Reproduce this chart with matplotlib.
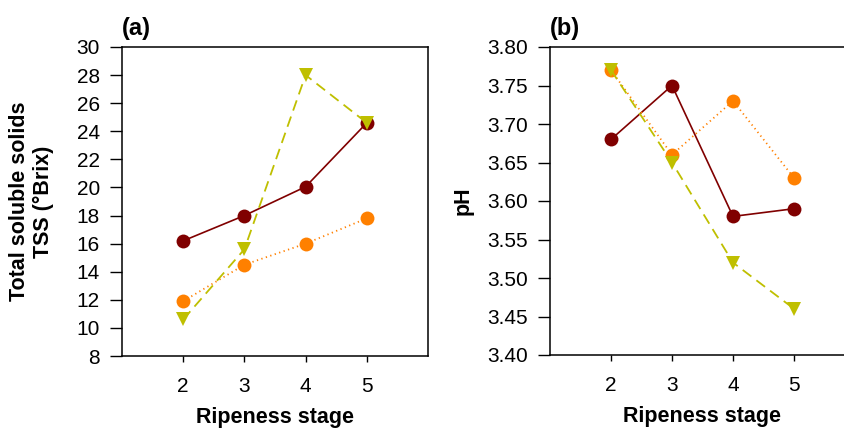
import matplotlib
matplotlib.use("Agg")
import matplotlib.pyplot as plt

plt.rcParams['font.family'] = ['Liberation Sans', 'DejaVu Sans']

stages = [2, 3, 4, 5]

# panel (a): total soluble solids, °Brix
tss_red = [16.2, 18.0, 20.05, 24.6]
tss_orange = [11.9, 14.5, 16.0, 17.8]
tss_yellow = [10.6, 15.6, 28.0, 24.6]

# panel (b): pH
ph_red = [3.68, 3.75, 3.58, 3.59]
ph_orange = [3.77, 3.66, 3.73, 3.63]
ph_yellow = [3.77, 3.65, 3.52, 3.46]

RED = '#800000'
ORANGE = '#ff8000'
YELLOW = '#bfbf00'


def draw(ax, red, orange, yellow):
    ax.plot(stages, red, color=RED, linewidth=1.2, marker='o', markersize=10,
            markeredgewidth=0, zorder=3)
    ax.plot(stages, orange, color=ORANGE, linewidth=1.3, linestyle=(0, (0.7, 1.9)),
            marker='o', markersize=10, markeredgewidth=0, zorder=4)
    ax.plot(stages, yellow, color=YELLOW, linewidth=1.3, linestyle=(0, (6, 3.5)),
            marker='v', markersize=10, markeredgewidth=0, zorder=5)
    ax.set_xlim(1, 6)
    ax.set_xticks(stages)
    ax.tick_params(axis='x', length=4, width=1, pad=11, labelsize=15)
    ax.tick_params(axis='y', length=9, width=1, pad=7, labelsize=15)
    for sp in ax.spines.values():
        sp.set_linewidth(1.1)
    ax.set_xlabel('Ripeness stage', fontsize=15.5, fontweight='bold', labelpad=8)


fig = plt.figure(figsize=(8.45, 4.29), dpi=100)
ax1 = fig.add_axes([122 / 845, 73 / 429, 306 / 845, 309 / 429])
ax2 = fig.add_axes([550 / 845, 74 / 429, 305 / 845, 308 / 429])

draw(ax1, tss_red, tss_orange, tss_yellow)
ax1.set_ylim(8, 30)
ax1.set_yticks(range(8, 31, 2))
ax1.set_ylabel('Total soluble solids\nTSS (°Brix)', fontsize=15.5, fontweight='bold',
               linespacing=1.2)
ax1.yaxis.set_label_coords(-0.222, 0.5)
ax1.set_title('(a)', loc='left', fontsize=17, fontweight='bold', pad=9)

draw(ax2, ph_red, ph_orange, ph_yellow)
ax2.set_ylim(3.40, 3.80)
ax2.set_yticks([3.40 + 0.05 * i for i in range(9)])
ax2.set_yticklabels(['%.2f' % (3.40 + 0.05 * i) for i in range(9)])
ax2.set_ylabel('pH', fontsize=15.5, fontweight='bold')
ax2.yaxis.set_label_coords(-0.252, 0.5)
ax2.set_title('(b)', loc='left', fontsize=17, fontweight='bold', pad=9)

fig.savefig('out.png', dpi=100)
